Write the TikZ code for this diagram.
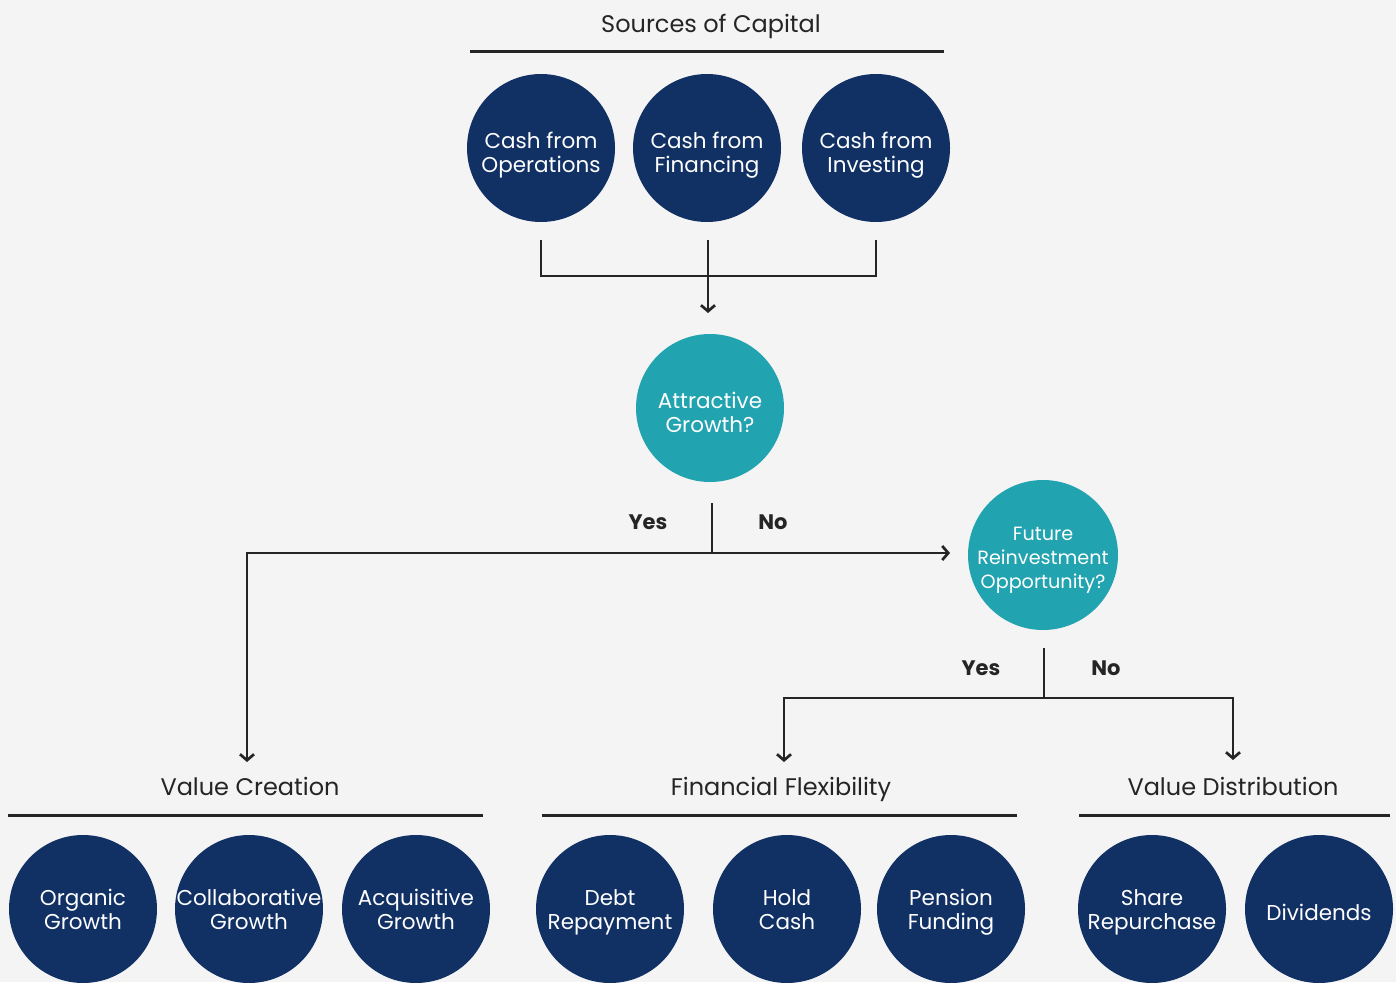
\documentclass[tikz,border=0pt]{standalone}
\usepackage{fontspec}
\setmainfont{Poppins}
\usetikzlibrary{arrows.meta}
\definecolor{navy}{HTML}{113064}
\definecolor{teal2}{HTML}{22A3B0}
\definecolor{bg}{HTML}{F4F4F4}
\definecolor{ink}{HTML}{252525}
\tikzset{
  navyc/.style={circle,fill=navy,minimum size=148pt,inner sep=0pt},
  tealc/.style={circle,fill=teal2,minimum size=148pt,inner sep=0pt},
  ctext/.style={text=white,align=center,inner sep=0pt,font=\fontsize{21.5}{24}\selectfont},
  head/.style={text=ink,font=\fontsize{24}{28}\selectfont,inner sep=0pt,anchor=base},
  yn/.style={text=ink,font=\bfseries\fontsize{21}{24}\selectfont,inner sep=0pt,anchor=base},
  rule/.style={draw=ink,line width=3pt},
  conn/.style={draw=ink,line width=2.7pt},
  arr/.style={conn,-{Straight Barb[length=6pt,width=14pt,line width=2.7pt]}}
}
\begin{document}
\begin{tikzpicture}[x=1pt,y=-1pt]
\fill[bg] (0,0) rectangle (1396,982);
\useasboundingbox (0,0) rectangle (1396,982);
% top
\node[head] (soc) at (711,33) {Sources of Capital};
\coordinate (s1) at (470,52); \coordinate (s2) at (944,52);
\draw[rule] (s1) -- (s2);
\node[navyc] (ops) at (541,148) {};
\node[navyc] (fin) at (707,148) {};
\node[navyc] (inv) at (876,148) {};
\node[ctext] (opsT) at ([yshift=-7pt]ops.center) {Cash from\\Operations};
\node[ctext] (finT) at ([yshift=-7pt]fin.center) {Cash from\\Financing};
\node[ctext] (invT) at ([yshift=-7pt]inv.center) {Cash from\\Investing};
\coordinate (o1) at (541,240); \coordinate (o2) at (541,276);
\coordinate (f1) at (708,240); \coordinate (f2) at (708,313);
\coordinate (i1) at (876,240); \coordinate (i2) at (876,276);
\draw[conn] (o1) -- (o2) -- (i2) -- (i1);
\draw[arr] (f1) -- (f2);
% attractive growth
\node[tealc] (ag) at (710,408) {};
\node[ctext] (agT) at ([yshift=-4pt]ag.center) {Attractive\\Growth?};
\coordinate (a1) at (712,503); \coordinate (a2) at (712,553);
\coordinate (aL) at (247,553); \coordinate (aLd) at (247,762);
\coordinate (aR) at (950,553);
\draw[conn] (a1) -- (a2);
\draw[arr] (a2) -- (aL) -- (aLd);
\draw[arr] (a2) -- (aR);
\node[yn] (y1) at (648,529) {Yes};
\node[yn] (n1) at (773,529) {No};
% future reinvestment
\node[tealc,minimum size=150pt] (fr) at (1043,555) {};
\node[ctext,font=\fontsize{19.2}{24}\selectfont] (frT) at ([yshift=-5pt]fr.center) {Future\\Reinvestment\\Opportunity?};
\coordinate (b1) at (1044,648); \coordinate (b2) at (1044,698);
\coordinate (bL) at (784,698); \coordinate (bLd) at (784,762);
\coordinate (bR) at (1233,698); \coordinate (bRd) at (1233,760);
\draw[conn] (b1) -- (b2);
\draw[arr] (b2) -- (bL) -- (bLd);
\draw[arr] (b2) -- (bR) -- (bRd);
\node[yn] (y2) at (981,675) {Yes};
\node[yn] (n2) at (1106,675) {No};
% categories
\node[head] (vc) at (250,795) {Value Creation};
\coordinate (vc1) at (8,815); \coordinate (vc2) at (483,815);
\draw[rule] (vc1) -- (vc2);
\node[head] (ff) at (781,795) {Financial Flexibility};
\coordinate (ff1) at (542,815); \coordinate (ff2) at (1017,815);
\draw[rule] (ff1) -- (ff2);
\node[head] (vd) at (1233,795) {Value Distribution};
\coordinate (vd1) at (1079,815); \coordinate (vd2) at (1390,815);
\draw[rule] (vd1) -- (vd2);
% bottom circles
\node[navyc] (org) at (83,909) {};
\node[navyc] (col) at (249,909) {};
\node[navyc] (acq) at (416,909) {};
\node[navyc] (debt) at (610,909) {};
\node[navyc] (hold) at (787,909) {};
\node[navyc] (pen) at (951,909) {};
\node[navyc] (share) at (1152,909) {};
\node[navyc] (div) at (1319,909) {};
\node[ctext] (orgT) at ([yshift=0pt]org.center) {Organic\\Growth};
\node[ctext] (colT) at ([yshift=0pt]col.center) {Collaborative\\Growth};
\node[ctext] (acqT) at ([yshift=0pt]acq.center) {Acquisitive\\Growth};
\node[ctext] (debtT) at ([yshift=-3pt]debt.center) {Debt\\Repayment};
\node[ctext] (holdT) at ([yshift=-1pt]hold.center) {Hold\\Cash};
\node[ctext] (penT) at ([yshift=-3pt]pen.center) {Pension\\Funding};
\node[ctext] (shareT) at ([yshift=-3pt]share.center) {Share\\Repurchase};
\node[ctext] (divT) at ([yshift=-3pt]div.center) {Dividends};
\end{tikzpicture}
\end{document}
